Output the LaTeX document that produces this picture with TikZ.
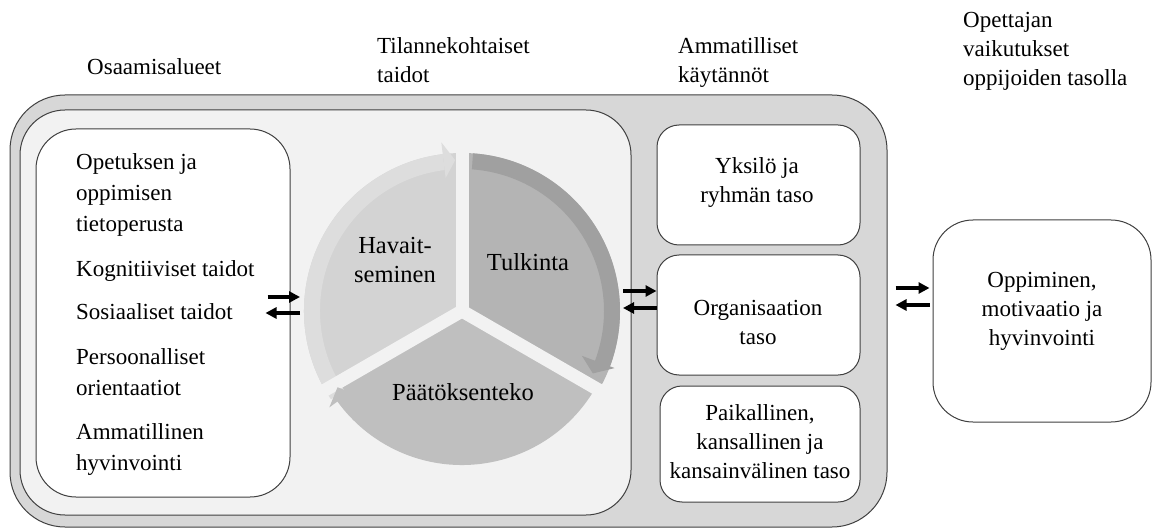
\documentclass[tikz,border=0pt]{standalone}
\usepackage{fontspec}
\setmainfont{Liberation Serif}
\usetikzlibrary{arrows.meta,positioning,calc}

\definecolor{framegray}{HTML}{D7D7D7}
\definecolor{innergray}{HTML}{F2F2F2}
\definecolor{havfill}{HTML}{D3D3D3}
\definecolor{havband}{HTML}{DDDDDD}
\definecolor{tulfill}{HTML}{B4B4B4}
\definecolor{tulband}{HTML}{A0A0A0}
\definecolor{paafill}{HTML}{BFBFBF}

\begin{document}
\begin{tikzpicture}[x=1pt,y=-1pt,font=\fontsize{23}{29}\selectfont,
   box/.style={draw=black!75,line width=1pt,rounded corners=#1,fill=white,inner sep=0pt},
   box/.default=22pt,
   hdr/.style={anchor=north west,align=left,inner sep=0pt},
   lbl/.style={align=center,inner sep=0pt},
   cyclbl/.style={align=center,inner sep=0pt,font=\fontsize{24.5}{29}\selectfont},
   pair/.style={-{Triangle[length=11pt,width=11pt]},line width=3.5pt}]
  \useasboundingbox (0,0) rectangle (1153,529);
  % frames
  \node[box=55pt,fill=framegray,minimum width=877pt,minimum height=432pt] (outer) at (448.5,311) {};
  \node[box=45pt,fill=innergray,minimum width=611pt,minimum height=405pt] (inner) at (325.5,312.5) {};
  \node[box=40pt,minimum width=254pt,minimum height=368pt] (lbox) at (163,313) {};
  \node[box,minimum width=203pt,minimum height=120pt] (yks) at (758.5,185) {};
  \node[box,minimum width=203pt,minimum height=120pt] (org) at (758.5,315) {};
  \node[box,minimum width=200pt,minimum height=116pt] (paik) at (760,444) {};
  \node[box=40pt,minimum width=218pt,minimum height=202pt] (opp) at (1042,321) {};
  % headings
  \node[hdr] (hosa) at (87,58) {Osaamisalueet};
  \node[hdr] (htil) at (377,37) {Tilannekohtaiset\\taidot};
  \node[hdr] (hamm) at (678,37) {Ammatilliset\\käytännöt};
  \node[hdr] (hope) at (963,12) {Opettajan\\vaikutukset\\oppijoiden tasolla};
  % box texts
  \node[hdr,font=\fontsize{23}{31}\selectfont] (tlbox) at (76,153)
    {Opetuksen ja\\oppimisen\\tietoperusta\\[14pt]
     Kognitiiviset taidot\\[12pt]
     Sosiaaliset taidot\\[14pt]
     Persoonalliset\\orientaatiot\\[13pt]
     Ammatillinen\\hyvinvointi};
  \node[lbl] (tyks) at (757,183) {Yksilö ja\\ryhmän taso};
  \node[lbl] (torg) at (758,322) {Organisaation\\taso};
  \node[lbl] (tpaik) at (760,442) {Paikallinen,\\kansallinen ja\\kansainvälinen taso};
  \node[lbl] (topp) at (1042,311) {Oppiminen,\\motivaatio ja\\hyvinvointi};
  % cycle
  \begin{scope}[shift={(462,311)},yscale=-1]
    \fill[havfill] (0,0) -- (210:158) arc[start angle=210,end angle=90,radius=158] -- cycle;
    \fill[tulfill] (0,0) -- (90:158) arc[start angle=90,end angle=-30,radius=158] -- cycle;
    \fill[paafill] (0,0) -- (-30:154) arc[start angle=-30,end angle=-150,radius=154] -- cycle;
    \fill[havband] (214:158) arc[start angle=214,end angle=97,radius=158]
      -- (97:142) arc[start angle=97,end angle=214,radius=142] -- cycle;
    \fill[tulband] (86:158) arc[start angle=86,end angle=-21,radius=158]
      -- (-21:142) arc[start angle=-21,end angle=86,radius=142] -- cycle;
    \foreach \a in {90,210,330}
      \draw[innergray,line width=13pt] (0,0) -- (\a:180);
    \fill[havband] (97:134) -- (97:170) -- (92.6:151) -- cycle;
    \fill[tulband] (-20.5:128) -- (-20.5:163) -- (-25.5:145) -- cycle;
    \fill[paafill] (-144:138) -- (-144:164) -- (-148.5:146) -- cycle;
  \end{scope}
  \node[cyclbl] (thav) at (395,260) {Havait-\\seminen};
  \node[cyclbl] (ttul) at (528,262) {Tulkinta};
  \node[cyclbl] (tpaa) at (463,392) {Päätöksenteko};
  % arrows
  \coordinate (cycw) at (300,305);
  \coordinate (cyce) at (623,299.5);
  \draw[pair] ([xshift=-23pt,yshift=16pt]lbox.east) -- ([yshift=8pt]cycw);
  \draw[pair] ([yshift=-8pt]cycw) -- ([xshift=-25pt]lbox.east);
  \draw[pair] ([yshift=8.5pt]cyce) -- ([yshift=24pt]org.west);
  \draw[pair] ([yshift=7pt]org.west) -- ([yshift=-8.5pt]cyce);
  \draw[pair] ([xshift=8pt,yshift=23pt]outer.east) -- ([xshift=-3pt,yshift=33pt]opp.west);
  \draw[pair] ([xshift=-3pt,yshift=16pt]opp.west) -- ([xshift=8pt,yshift=6pt]outer.east);
\end{tikzpicture}
\end{document}
